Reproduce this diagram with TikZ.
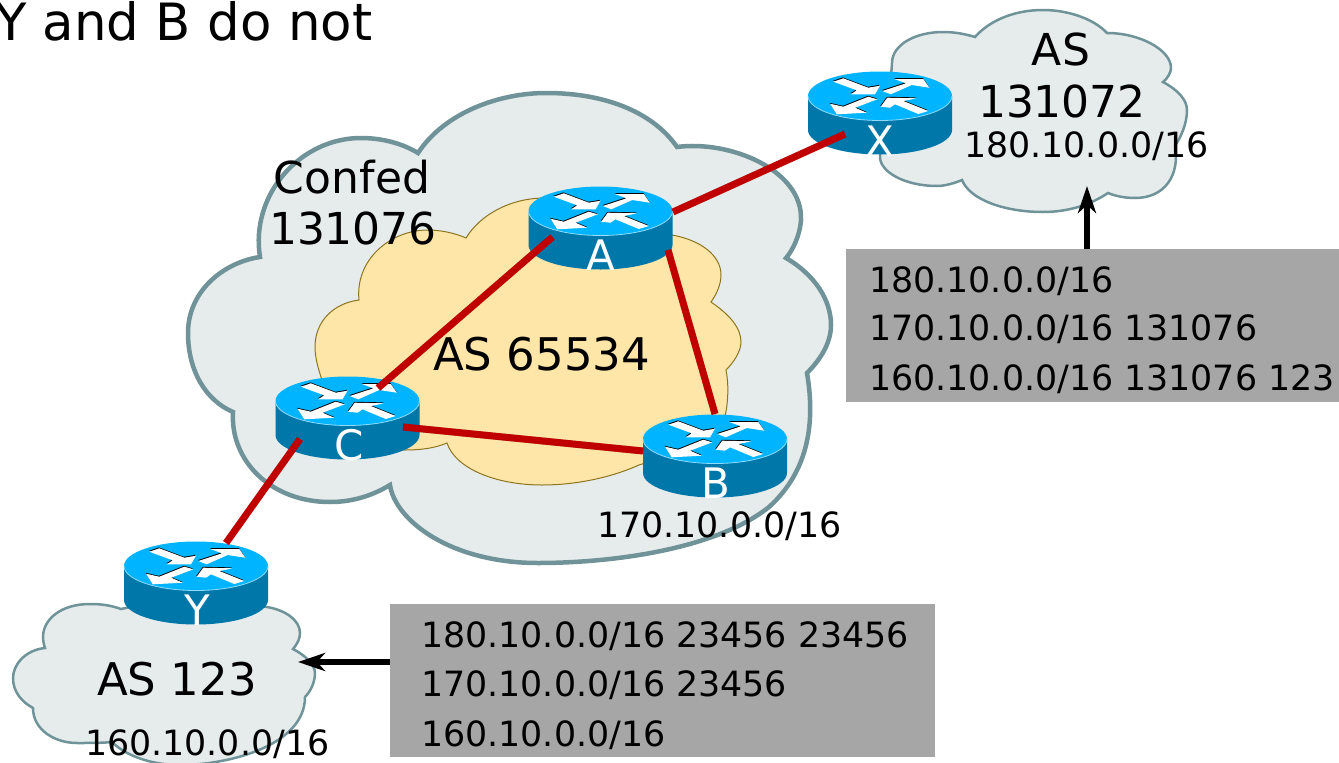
\documentclass[tikz,border=0pt]{standalone}
\usepackage{fontspec}
\setmainfont{DejaVu Sans}
\usetikzlibrary{arrows.meta}
\definecolor{cloudfill}{HTML}{E6ECEC}
\definecolor{cloudline}{HTML}{6F9398}
\definecolor{innerfill}{HTML}{FDE6A8}
\definecolor{innerline}{HTML}{8F7420}
\definecolor{routertop}{HTML}{00B4FF}
\definecolor{routerside}{HTML}{0077A9}
\definecolor{routerrim}{HTML}{8FDCFF}
\definecolor{linkred}{HTML}{C00000}
\definecolor{boxgray}{HTML}{A6A6A6}
\newcommand{\rtarrows}{%
  (-46.7,-14.3) -- (-36.7,-17.7) -- (-11.7,-8.3) -- (0,-10.3) -- (-5,-1.7) -- (-29.3,-1.7) -- (-23.3,-5.7) -- cycle
  (2.3,-5) -- (26,-12.7) -- (14.3,-17) -- (43.3,-17) -- (49.3,-8.3) -- (31.7,-11) -- (10.7,-1.7) -- cycle
  (-11.7,.7) -- (-2.7,3.3) -- (-25,11.7) -- (-13.3,16.7) -- (-43.3,18.3) -- (-50,7.7) -- (-36.7,10.7) -- cycle
  (.7,10.7) -- (7.3,1.7) -- (36.7,2.3) -- (23.3,5) -- (48.3,15) -- (38.3,18) -- (15,8.3) -- (10,11.7) -- cycle}
\tikzset{
  x=1pt,y=-1pt,
  pics/router/.style={code={
    \fill[routerside] (-72,0) -- (-72,34) arc[start angle=180,end angle=360,x radius=72pt,y radius=24.5pt] -- (72,0) -- cycle;
    \fill[routertop] (0,0) ellipse[x radius=72pt,y radius=24.5pt];
    \draw[routerrim,line width=.8pt] (-72,0) arc[start angle=180,end angle=360,x radius=72pt,y radius=24.5pt];
    \fill[black,shift={(-.4,-.9)}] \rtarrows;
    \fill[white] \rtarrows;
  }},
  rlabel/.style={text=white,anchor=base,inner sep=0pt,font=\fontsize{42pt}{42pt}\selectfont},
  bigcloud/.style={fill=cloudfill,draw=cloudline,line width=4.5pt,line join=miter},
  smallcloud/.style={fill=cloudfill,draw=cloudline,line width=2.5pt,line join=miter},
  innercloud/.style={fill=innerfill,draw=innerline,line width=1pt},
  txtbig/.style={anchor=base,inner sep=0pt,font=\fontsize{44pt}{44pt}\selectfont},
  txtmid/.style={anchor=base west,inner sep=0pt,font=\fontsize{45pt}{45pt}\selectfont},
  txtsmall/.style={anchor=base west,inner sep=0pt,font=\fontsize{34.8pt}{34.8pt}\selectfont},
  graybox/.style={fill=boxgray,draw=none,inner sep=0pt,minimum width=#1},
  link/.style={draw=linkred,line width=7pt},
  linkshadow/.style={draw=black,opacity=.18,line width=7pt,shift={(2.5,2.5)}},
  feed/.style={draw=black,line width=5.5pt,-{Stealth[length=27pt,width=18pt,inset=8pt]}},
}
\begin{document}
\begin{tikzpicture}
\useasboundingbox (0,0) rectangle (1339,763);
% clouds
\path[bigcloud] (418,153) .. controls (445,112) and (500,93) .. (546,93)
  .. controls (610,93) and (655,115) .. (677,147)
  .. controls (730,140) and (803,170) .. (801,220)
  .. controls (800,235) and (793,250) .. (786,258)
  .. controls (815,275) and (831,300) .. (831,325)
  .. controls (831,345) and (818,362) .. (807,373)
  .. controls (815,420) and (810,470) .. (769,507)
  .. controls (715,550) and (610,563) .. (538,563)
  .. controls (450,563) and (395,520) .. (390,485)
  .. controls (370,497) and (350,502) .. (330,502)
  .. controls (270,502) and (230,460) .. (233,412)
  .. controls (205,400) and (188,370) .. (188,333)
  .. controls (188,290) and (225,262) .. (260,257)
  .. controls (250,195) and (300,138) .. (361,138)
  .. controls (385,138) and (405,145) .. (418,153) -- cycle;
\path[innercloud] (359,300) .. controls (355,260) and (390,230) .. (428,230)
  .. controls (440,230) and (455,233) .. (466,238)
  .. controls (480,215) and (510,198) .. (545,198)
  .. controls (600,195) and (650,210) .. (672,235)
  .. controls (700,240) and (721,255) .. (721,275)
  .. controls (721,285) and (716,295) .. (711,302)
  .. controls (730,315) and (741,328) .. (741,342)
  .. controls (741,352) and (733,363) .. (726,370)
  .. controls (730,390) and (728,420) .. (715,445)
  .. controls (700,450) and (670,455) .. (639,465)
  .. controls (610,478) and (575,485) .. (542,485)
  .. controls (495,485) and (455,468) .. (447,443)
  .. controls (435,448) and (422,450) .. (405,450)
  .. controls (380,450) and (340,420) .. (321,377)
  .. controls (317,365) and (315,355) .. (315,347)
  .. controls (315,320) and (335,303) .. (359,300) -- cycle;
\path[smallcloud] (975,37) .. controls (990,20) and (1015,10) .. (1043,10)
  .. controls (1070,10) and (1095,20) .. (1107,33)
  .. controls (1140,33) and (1171,50) .. (1171,68)
  .. controls (1171,72) and (1168,78) .. (1163,82)
  .. controls (1178,90) and (1187,100) .. (1187,110)
  .. controls (1187,125) and (1180,138) .. (1175,146)
  .. controls (1180,175) and (1165,198) .. (1135,198)
  .. controls (1125,198) and (1115,196) .. (1108,193)
  .. controls (1090,205) and (1068,212) .. (1043,212)
  .. controls (1005,212) and (970,200) .. (962,180)
  .. controls (955,183) and (945,186) .. (937,186)
  .. controls (905,186) and (880,172) .. (880,157)
  .. controls (880,120) and (890,100) .. (892,63)
  .. controls (892,45) and (915,32) .. (943,32)
  .. controls (955,32) and (965,34) .. (975,37) -- cycle;
\path[smallcloud] (121,609) .. controls (110,605) and (100,604) .. (90,604)
  .. controls (60,604) and (43,620) .. (43,637)
  .. controls (43,641) and (44,645) .. (45,648)
  .. controls (25,650) and (13,665) .. (13,678)
  .. controls (13,692) and (22,702) .. (33,708)
  .. controls (33,730) and (55,743) .. (77,743)
  .. controls (90,743) and (102,743) .. (112,742)
  .. controls (125,755) and (150,765) .. (180,765)
  .. controls (230,765) and (305,745) .. (305,697)
  .. controls (312,690) and (315,680) .. (315,673)
  .. controls (315,665) and (305,655) .. (293,649)
  .. controls (298,643) and (300,638) .. (300,633)
  .. controls (300,620) and (285,610) .. (267,607)
  .. controls (220,600) and (160,600) .. (121,609) -- cycle;
% routers
\pic at (880,96) {router};
\pic at (600.5,211) {router};
\pic at (347.5,401) {router};
\pic at (715,439) {router};
\pic at (196,566) {router};
\node[rlabel] (X) at (880,156) {X};
\node[rlabel] (A) at (600.5,270) {A};
\node[rlabel] (C) at (349,460) {C};
\node[rlabel] (B) at (716,498) {B};
\node[rlabel] (Y) at (197,625) {Y};
% connector ends
\coordinate (xa) at (845,134);
\coordinate (ax) at (673,212);
\coordinate (ac) at (552.5,237);
\coordinate (ca) at (378,388);
\coordinate (ab) at (668,250);
\coordinate (ba) at (715,414);
\coordinate (cb) at (403,427);
\coordinate (bc) at (643,451);
\coordinate (cy) at (300,439);
\coordinate (yc) at (226,543);
\foreach \p/\q in {ax/xa,ac/ca,ab/ba,cb/bc,cy/yc}{
  \draw[linkshadow] (\p) -- (\q);
  \draw[link] (\p) -- (\q);
}
% gray boxes
\node[graybox=493pt,minimum height=153pt] (boxx) at (1092.5,325.5) {};
\node[graybox=545pt,minimum height=153pt] (boxy) at (662.5,680.5) {};
\coordinate (boxxtop) at (1087,249);
\coordinate (xtip) at (1087,186);
\coordinate (boxyleft) at (390,662);
\coordinate (ytip) at (298,662);
\draw[feed] (boxxtop) -- (xtip);
\draw[feed] (boxyleft) -- (ytip);
% texts
\node[anchor=base west,inner sep=0pt,font=\fontsize{51.4pt}{51.4pt}\selectfont] (head) at (-5,40) {Y and B do not};
\node[txtbig] (asx) at (1061,65) {AS};
\node[txtbig] (asxn) at (1062,117) {131072};
\node[txtsmall] (px) at (964,157) {180.10.0.0/16};
\node[txtbig] (conf) at (352,193) {Confed};
\node[txtbig] (confn) at (353,244) {131076};
\node[txtmid] (asin) at (433,370) {AS 65534};
\node[txtsmall] (pb) at (597,537) {170.10.0.0/16};
\node[txtmid] (asy) at (97,695) {AS 123};
\node[txtsmall] (py) at (85,755) {160.10.0.0/16};
\node[txtsmall] (x1) at (869,292) {180.10.0.0/16};
\node[txtsmall] (x2) at (869,340) {170.10.0.0/16 131076};
\node[txtsmall] (x3) at (869,390) {160.10.0.0/16 131076 123};
\node[txtsmall] (y1) at (421,647) {180.10.0.0/16 23456 23456};
\node[txtsmall] (y2) at (421,696) {170.10.0.0/16 23456};
\node[txtsmall] (y3) at (421,746) {160.10.0.0/16};
\end{tikzpicture}
\end{document}
